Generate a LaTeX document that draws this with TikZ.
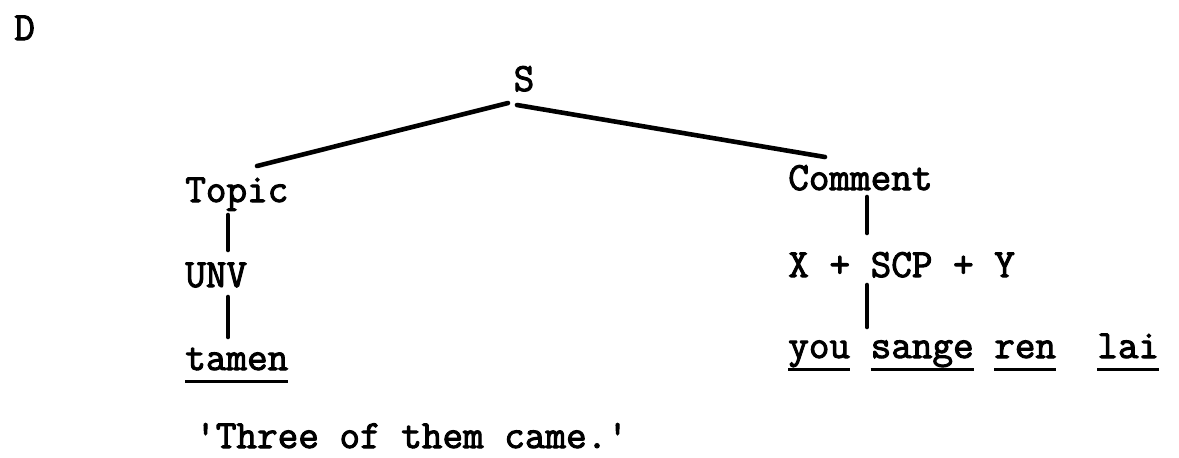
\documentclass[tikz,border=0pt]{standalone}
\usepackage{fontspec}
\newfontfamily\typer[FakeBold=2.5]{Latin Modern Mono}
\newsavebox\ulbox
\newcommand\ulword[1]{\sbox\ulbox{#1}\rlap{\rule[-6.6pt]{\wd\ulbox}{1.6pt}}\usebox\ulbox}
\begin{document}
\begin{tikzpicture}[x=.5pt,y=-.5pt,line width=2.3pt,line cap=round,
  every node/.style={inner sep=0pt,anchor=base west,
    font=\typer\fontsize{20}{22}\selectfont}]
 \useasboundingbox (0,0) rectangle (1179,457);
 \node (mark) at (12,40) {D};
 \node[anchor=base] (S) at (524,91) {S};
 \node (topic) at (183,202) {Topic};
 \node (comment) at (786,190) {Comment};
 \node (unv) at (183,287) {UNV};
 \node (scp) at (786,277) {X + SCP + Y};
 \node (tamen) at (183,370) {\ulword{tamen}};
 \node (words) at (786,358) {\ulword{you} \ulword{sange} \ulword{ren}~~\ulword{lai}};
 \node (gloss) at (193,448) {\textquotesingle Three of them came.\textquotesingle};
 % branches
 \draw ([shift={(-16,12)}]S.base) -- ([shift={(74,-36)}]topic.base west);
 \draw ([shift={(-7,14)}]S.base) -- ([shift={(39,-33)}]comment.base west);
 \draw ([shift={(45,13)}]topic.base west) -- ([shift={(45,-37)}]unv.base west);
 \draw ([shift={(45,10)}]unv.base west) -- ([shift={(45,-33)}]tamen.base west);
 \draw ([shift={(81,7)}]comment.base west) -- ([shift={(81,-44)}]scp.base west);
 \draw ([shift={(81,8)}]scp.base west) -- ([shift={(81,-31)}]words.base west);
\end{tikzpicture}
\end{document}
